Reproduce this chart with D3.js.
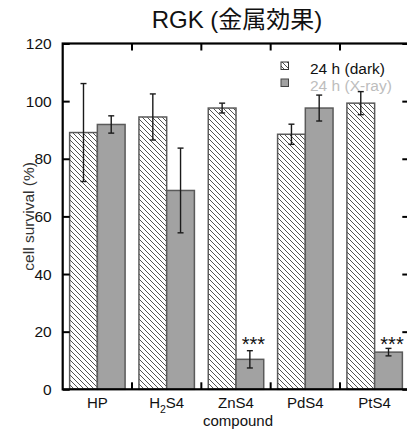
<!DOCTYPE html>
<html><head><meta charset="utf-8">
<script src="https://cdn.jsdelivr.net/npm/d3@7"></script>
<style>body{margin:0;background:#fff;}svg{display:block;font-family:"Liberation Sans",Arial,sans-serif;}</style>
</head><body>
<script>
const categories = ["HP","H2S4","ZnS4","PdS4","PtS4"];
const darkValues = [89.1, 94.5, 97.6, 88.5, 99.3];
const darkErrors = [17, 8, 1.7, 3.5, 4];
const xrayValues = [91.9, 69, 10.4, 97.6, 12.9];
const xrayErrors = [3, 14.7, 3, 4.5, 1.3];
const significance = ["", "", "***", "", "***"];
const yTicks = [0, 20, 40, 60, 80, 100, 120];
const seriesNames = ["24 h (dark)", "24 h (X-ray)"];

const W = 407, H = 430;
const m = {left: 62.7, top: 43.5, right: 409.3, bottom: 389.3};
const svg = d3.select("body").append("svg").attr("width", W).attr("height", H);

const defs = svg.append("defs");
const pat = defs.append("pattern").attr("id","hatch").attr("patternUnits","userSpaceOnUse")
  .attr("width",5).attr("height",5);
pat.append("rect").attr("width",5).attr("height",5).attr("fill","#fff");
pat.append("path").attr("d","M-1,-1 L6,6 M-3.5,1.5 L1.5,6.5 M3.5,-1.5 L6.5,1.5")
  .attr("stroke","#333").attr("stroke-width",0.85);

const x = d3.scaleBand().domain(categories).range([m.left, m.right]).paddingInner(0).paddingOuter(0);
const y = d3.scaleLinear().domain([0,120]).range([m.bottom, m.top]);
const bw = x.bandwidth() * 0.4;
const gap = (x.bandwidth() - 2*bw) / 2;
const off = [gap, gap + bw];
const grayFill = "#a2a2a2";

const series = [
  {vals: darkValues, errs: darkErrors, fill: "url(#hatch)"},
  {vals: xrayValues, errs: xrayErrors, fill: grayFill}
];

series.forEach((s, si) => {
  const g = svg.append("g");
  g.selectAll("rect").data(categories).join("rect")
    .attr("x", c => x(c) + off[si])
    .attr("y", (c,i) => y(s.vals[i]))
    .attr("width", bw)
    .attr("height", (c,i) => y(0) - y(s.vals[i]))
    .attr("fill", s.fill).attr("stroke","#5a5a5a").attr("stroke-width",1.5);
  categories.forEach((c,i) => {
    const cx = x(c) + off[si] + bw/2;
    const y1 = y(s.vals[i] + s.errs[i]), y2 = y(s.vals[i] - s.errs[i]);
    g.append("line").attr("x1",cx).attr("x2",cx).attr("y1",y1).attr("y2",y2).attr("stroke","#1a1a1a").attr("stroke-width",1.4);
    [y1,y2].forEach(yy => g.append("line").attr("x1",cx-3).attr("x2",cx+3).attr("y1",yy).attr("y2",yy).attr("stroke","#1a1a1a").attr("stroke-width",1.4));
  });
});

// significance
const starTop = d3.max(categories.map((c,i) => significance[i] ? xrayValues[i] + xrayErrors[i] : 0));
categories.forEach((c,i) => {
  if (significance[i]) {
    svg.append("text").attr("x", x(c)+off[1]+bw/2 + 3.5).attr("y", y(starTop) + 3)
      .attr("text-anchor","middle").attr("font-size",20).attr("fill","#111").text(significance[i]);
  }
});

// axes frame
svg.append("rect").attr("x",m.left).attr("y",m.top).attr("width",m.right-m.left).attr("height",m.bottom-m.top)
  .attr("fill","none").attr("stroke","#000").attr("stroke-width",2.2);

// y axis
const yAxis = d3.axisLeft(y).tickValues(yTicks).tickSize(-7).tickPadding(11);
const ga = svg.append("g").attr("transform",`translate(${m.left},0)`).call(yAxis);
ga.select(".domain").remove();
ga.selectAll("line").attr("stroke","#000").attr("stroke-width",2);
ga.selectAll("text").attr("font-size",15.5).attr("fill","#111").attr("font-family","Liberation Sans, Arial, sans-serif");
// right axis ticks
const gr = svg.append("g").attr("transform",`translate(${m.right},0)`).call(d3.axisRight(y).tickValues(yTicks).tickSize(-7).tickFormat(""));
gr.select(".domain").remove();
gr.selectAll("line").attr("stroke","#000").attr("stroke-width",2);

// category boundary ticks top & bottom
const bounds = categories.slice(1).map(c => x(c));
bounds.forEach(bx => {
  svg.append("line").attr("x1",bx).attr("x2",bx).attr("y1",m.bottom).attr("y2",m.bottom-7).attr("stroke","#000").attr("stroke-width",2);
  svg.append("line").attr("x1",bx).attr("x2",bx).attr("y1",m.top).attr("y2",m.top+7).attr("stroke","#000").attr("stroke-width",2);
});

// x labels
categories.forEach(c => {
  const t = svg.append("text").attr("x", x(c)+x.bandwidth()/2).attr("y", 408)
    .attr("text-anchor","middle").attr("font-size",15).attr("fill","#111");
  if (c === "H2S4") {
    t.append("tspan").text("H");
    t.append("tspan").attr("font-size",10.5).attr("dy",5).text("2");
    t.append("tspan").attr("dy",-5).text("S4");
  } else t.text(c);
});
svg.append("text").attr("x", x("ZnS4")+x.bandwidth()/2 + 2).attr("y",425.5).attr("text-anchor","middle")
  .attr("font-size",15).attr("fill","#111").text("compound");

// y label
svg.append("text").attr("transform",`translate(34,${(m.top+m.bottom)/2}) rotate(-90)`)
  .attr("text-anchor","middle").attr("font-size",15.5).attr("fill","#333").text("cell survival (%)");

// title
svg.append("text").attr("x",237).attr("y",28).attr("text-anchor","middle").attr("font-size",24)
  .attr("fill","#111").attr("font-family","Liberation Sans, 'Noto Sans CJK JP', sans-serif").text("RGK (金属効果)");

// legend
const lg = svg.append("g");
lg.append("rect").attr("x",281).attr("y",62).attr("width",7.5).attr("height",7.5).attr("fill","url(#hatch)").attr("stroke","#333");
lg.append("rect").attr("x",281).attr("y",79).attr("width",7.5).attr("height",7.5).attr("fill",grayFill).attr("stroke","#444");
lg.append("text").attr("x",310).attr("y",74).attr("font-size",15.5).attr("fill","#111").text(seriesNames[0]);
lg.append("text").attr("x",310).attr("y",90.5).attr("font-size",15.5).attr("fill","#bdbdbd").text(seriesNames[1]);
</script>
</body></html>
